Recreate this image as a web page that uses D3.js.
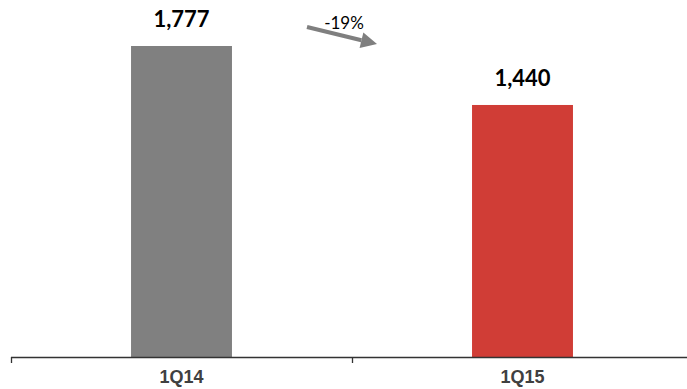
<!DOCTYPE html>
<html>
<head>
<meta charset="utf-8">
<script src="https://cdn.jsdelivr.net/npm/d3@7"></script>
<style>
  body { margin: 0; background: #fff; }
</style>
</head>
<body>
<div id="chart"></div>
<script>
const categories = ['1Q14', '1Q15'];
const values = [1777, 1440];
const valueLabels = ['1,777', '1,440'];
const barColors = ['#808080', '#d03d36'];
const changeLabel = '-19%';

const width = 687, height = 389;
const axisY = 357;

const svg = d3.select('#chart').append('svg')
    .attr('width', width)
    .attr('height', height);

const x = d3.scaleBand()
    .domain(categories)
    .range([11, 693])
    .paddingInner(0.704)
    .paddingOuter(0.352);

const y = d3.scaleLinear()
    .domain([0, 1777])
    .range([axisY, 46]);

// bars
svg.selectAll('rect.bar')
    .data(categories)
    .enter()
    .append('rect')
    .attr('class', 'bar')
    .attr('x', d => x(d))
    .attr('width', x.bandwidth())
    .attr('y', (d, i) => y(values[i]))
    .attr('height', (d, i) => y(0) - y(values[i]))
    .attr('fill', (d, i) => barColors[i]);

// value labels
svg.selectAll('text.val')
    .data(categories)
    .enter()
    .append('text')
    .attr('class', 'val')
    .attr('x', d => x(d) + x.bandwidth() / 2)
    .attr('y', (d, i) => y(values[i]) - 19)
    .attr('text-anchor', 'middle')
    .style('font-family', 'Lato, "Open Sans", sans-serif')
    .style('font-weight', 'bold')
    .style('font-size', '22px')
    .attr('fill', '#000')
    .text((d, i) => valueLabels[i]);

// axis: line + boundary ticks
const step = x.step();
const r0 = x.range()[0];
const bounds = d3.range(categories.length + 1).map(i => r0 + i * step);

const axis = svg.append('g').attr('class', 'axis');
axis.append('line')
    .attr('x1', r0).attr('x2', width)
    .attr('y1', axisY + 0.5).attr('y2', axisY + 0.5)
    .attr('stroke', '#333').attr('stroke-width', 1.3);
axis.selectAll('line.tick')
    .data(bounds)
    .enter()
    .append('line')
    .attr('class', 'tick')
    .attr('x1', d => Math.round(d) + 0.5).attr('x2', d => Math.round(d) + 0.5)
    .attr('y1', axisY).attr('y2', axisY + 6)
    .attr('stroke', '#333').attr('stroke-width', 1.3);

axis.selectAll('text.cat')
    .data(categories)
    .enter()
    .append('text')
    .attr('class', 'cat')
    .attr('x', d => x(d) + x.bandwidth() / 2)
    .attr('y', 383)
    .attr('text-anchor', 'middle')
    .style('font-family', "'Liberation Sans', Arial, sans-serif")
    .style('font-weight', 'bold')
    .style('font-size', '18px')
    .attr('fill', '#404040')
    .text(d => d);

// change arrow
const ax1 = 307, ay1 = 27, ax2 = 377, ay2 = 44;
const ang = Math.atan2(ay2 - ay1, ax2 - ax1);
const headLen = 16, headW = 8;
const bx = ax2 - headLen * Math.cos(ang), by = ay2 - headLen * Math.sin(ang);
svg.append('line')
    .attr('x1', ax1).attr('y1', ay1)
    .attr('x2', bx).attr('y2', by)
    .attr('stroke', '#7f7f7f')
    .attr('stroke-width', 4);
svg.append('path')
    .attr('d', d3.line()([
        [ax2, ay2],
        [bx + headW * Math.sin(ang), by - headW * Math.cos(ang)],
        [bx - headW * Math.sin(ang), by + headW * Math.cos(ang)]
    ]) + 'Z')
    .attr('fill', '#7f7f7f');

svg.append('text')
    .attr('x', 344)
    .attr('y', 29)
    .attr('text-anchor', 'middle')
    .style('font-family', 'Lato, "Open Sans", sans-serif')
    .style('font-size', '17px')
    .attr('fill', '#000')
    .text(changeLabel);
</script>
</body>
</html>
